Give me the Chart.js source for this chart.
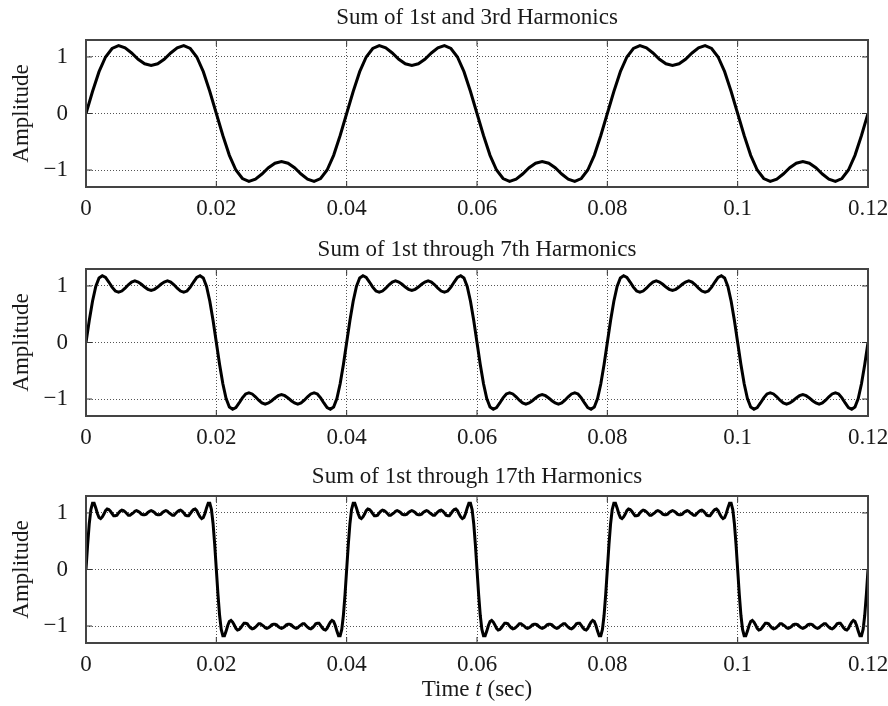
<!DOCTYPE html>
<html>
<head>
<meta charset="utf-8">
<script src="https://cdn.jsdelivr.net/npm/chart.js@4.4.1/dist/chart.umd.min.js"></script>
<style>
  body { margin: 0; background: #fff; }
  #wrap { position: relative; width: 888px; height: 706px; }
  #wrap canvas { position: absolute; left: 0; }
</style>
</head>
<body>
<div id="wrap">
  <canvas id="harm3" width="888" height="228" style="top:0"></canvas>
  <canvas id="harm7" width="888" height="228" style="top:229px"></canvas>
  <canvas id="harm17" width="888" height="250" style="top:456px"></canvas>
</div>
<script>
// tick values / labels shared by the three panels
const X_TICKS = [0, 0.02, 0.04, 0.06, 0.08, 0.1, 0.12];
const X_TICK_LABELS = ["0", "0.02", "0.04", "0.06", "0.08", "0.1", "0.12"];
const Y_TICKS = [-1, 0, 1];
const Y_TICK_LABELS = ["\u22121", "0", "1"];

const TITLES = [
  "Sum of 1st and 3rd Harmonics",
  "Sum of 1st through 7th Harmonics",
  "Sum of 1st through 17th Harmonics",
];

// sample spacing (sec) of each curve
const DT_3RD = 0.001;
const DT_7TH = 0.0005;
const DT_17TH = 0.00025;

// amplitude, t = 0 .. 0.12
const SUM_3RD = [
  0.00,
  0.39, 0.74, 1.00, 1.15, 1.20, 1.16, 1.07, 0.96, 0.88, 0.85, 0.88, 0.96, 1.07, 1.16, 1.20, 1.15, 1.00, 0.74, 0.39, 0.00,
  -0.39, -0.74, -1.00, -1.15, -1.20, -1.16, -1.07, -0.96, -0.88, -0.85, -0.88, -0.96, -1.07, -1.16, -1.20, -1.15, -1.00, -0.74, -0.39, 0.00,
  0.39, 0.74, 1.00, 1.15, 1.20, 1.16, 1.07, 0.96, 0.88, 0.85, 0.88, 0.96, 1.07, 1.16, 1.20, 1.15, 1.00, 0.74, 0.39, 0.00,
  -0.39, -0.74, -1.00, -1.15, -1.20, -1.16, -1.07, -0.96, -0.88, -0.85, -0.88, -0.96, -1.07, -1.16, -1.20, -1.15, -1.00, -0.74, -0.39, 0.00,
  0.39, 0.74, 1.00, 1.15, 1.20, 1.16, 1.07, 0.96, 0.88, 0.85, 0.88, 0.96, 1.07, 1.16, 1.20, 1.15, 1.00, 0.74, 0.39, 0.00,
  -0.39, -0.74, -1.00, -1.15, -1.20, -1.16, -1.07, -0.96, -0.88, -0.85, -0.88, -0.96, -1.07, -1.16, -1.20, -1.15, -1.00, -0.74, -0.39, 0.00,
];

const SUM_7TH = [
  0.00,
  0.39, 0.73, 0.99, 1.14, 1.18, 1.15, 1.07, 0.98, 0.91, 0.89, 0.91, 0.96, 1.02, 1.07, 1.09, 1.07, 1.03, 0.98, 0.94, 0.92,
  0.94, 0.98, 1.03, 1.07, 1.09, 1.07, 1.02, 0.96, 0.91, 0.89, 0.91, 0.98, 1.07, 1.15, 1.18, 1.14, 0.99, 0.73, 0.39, 0.00,
  -0.39, -0.73, -0.99, -1.14, -1.18, -1.15, -1.07, -0.98, -0.91, -0.89, -0.91, -0.96, -1.02, -1.07, -1.09, -1.07, -1.03, -0.98, -0.94, -0.92,
  -0.94, -0.98, -1.03, -1.07, -1.09, -1.07, -1.02, -0.96, -0.91, -0.89, -0.91, -0.98, -1.07, -1.15, -1.18, -1.14, -0.99, -0.73, -0.39, 0.00,
  0.39, 0.73, 0.99, 1.14, 1.18, 1.15, 1.07, 0.98, 0.91, 0.89, 0.91, 0.96, 1.02, 1.07, 1.09, 1.07, 1.03, 0.98, 0.94, 0.92,
  0.94, 0.98, 1.03, 1.07, 1.09, 1.07, 1.02, 0.96, 0.91, 0.89, 0.91, 0.98, 1.07, 1.15, 1.18, 1.14, 0.99, 0.73, 0.39, 0.00,
  -0.39, -0.73, -0.99, -1.14, -1.18, -1.15, -1.07, -0.98, -0.91, -0.89, -0.91, -0.96, -1.02, -1.07, -1.09, -1.07, -1.03, -0.98, -0.94, -0.92,
  -0.94, -0.98, -1.03, -1.07, -1.09, -1.07, -1.02, -0.96, -0.91, -0.89, -0.91, -0.98, -1.07, -1.15, -1.18, -1.14, -0.99, -0.73, -0.39, 0.00,
  0.39, 0.73, 0.99, 1.14, 1.18, 1.15, 1.07, 0.98, 0.91, 0.89, 0.91, 0.96, 1.02, 1.07, 1.09, 1.07, 1.03, 0.98, 0.94, 0.92,
  0.94, 0.98, 1.03, 1.07, 1.09, 1.07, 1.02, 0.96, 0.91, 0.89, 0.91, 0.98, 1.07, 1.15, 1.18, 1.14, 0.99, 0.73, 0.39, 0.00,
  -0.39, -0.73, -0.99, -1.14, -1.18, -1.15, -1.07, -0.98, -0.91, -0.89, -0.91, -0.96, -1.02, -1.07, -1.09, -1.07, -1.03, -0.98, -0.94, -0.92,
  -0.94, -0.98, -1.03, -1.07, -1.09, -1.07, -1.02, -0.96, -0.91, -0.89, -0.91, -0.98, -1.07, -1.15, -1.18, -1.14, -0.99, -0.73, -0.39, 0.00,
];

const SUM_17TH = [
  0.00,
  0.44, 0.81, 1.06, 1.17, 1.17, 1.09, 0.99, 0.92, 0.90, 0.93, 0.98, 1.04, 1.07, 1.06, 1.03, 0.99, 0.95, 0.95, 0.96, 1.00,
  1.03, 1.05, 1.04, 1.02, 0.99, 0.96, 0.96, 0.98, 1.00, 1.03, 1.04, 1.03, 1.01, 0.98, 0.97, 0.97, 0.98, 1.01, 1.03, 1.04,
  1.03, 1.01, 0.98, 0.97, 0.97, 0.98, 1.01, 1.03, 1.04, 1.03, 1.00, 0.98, 0.96, 0.96, 0.99, 1.02, 1.04, 1.05, 1.03, 1.00,
  0.96, 0.95, 0.95, 0.99, 1.03, 1.06, 1.07, 1.04, 0.98, 0.93, 0.90, 0.92, 0.99, 1.09, 1.17, 1.17, 1.06, 0.81, 0.44, 0.00,
  -0.44, -0.81, -1.06, -1.17, -1.17, -1.09, -0.99, -0.92, -0.90, -0.93, -0.98, -1.04, -1.07, -1.06, -1.03, -0.99, -0.95, -0.95, -0.96, -1.00,
  -1.03, -1.05, -1.04, -1.02, -0.99, -0.96, -0.96, -0.98, -1.00, -1.03, -1.04, -1.03, -1.01, -0.98, -0.97, -0.97, -0.98, -1.01, -1.03, -1.04,
  -1.03, -1.01, -0.98, -0.97, -0.97, -0.98, -1.01, -1.03, -1.04, -1.03, -1.00, -0.98, -0.96, -0.96, -0.99, -1.02, -1.04, -1.05, -1.03, -1.00,
  -0.96, -0.95, -0.95, -0.99, -1.03, -1.06, -1.07, -1.04, -0.98, -0.93, -0.90, -0.92, -0.99, -1.09, -1.17, -1.17, -1.06, -0.81, -0.44, 0.00,
  0.44, 0.81, 1.06, 1.17, 1.17, 1.09, 0.99, 0.92, 0.90, 0.93, 0.98, 1.04, 1.07, 1.06, 1.03, 0.99, 0.95, 0.95, 0.96, 1.00,
  1.03, 1.05, 1.04, 1.02, 0.99, 0.96, 0.96, 0.98, 1.00, 1.03, 1.04, 1.03, 1.01, 0.98, 0.97, 0.97, 0.98, 1.01, 1.03, 1.04,
  1.03, 1.01, 0.98, 0.97, 0.97, 0.98, 1.01, 1.03, 1.04, 1.03, 1.00, 0.98, 0.96, 0.96, 0.99, 1.02, 1.04, 1.05, 1.03, 1.00,
  0.96, 0.95, 0.95, 0.99, 1.03, 1.06, 1.07, 1.04, 0.98, 0.93, 0.90, 0.92, 0.99, 1.09, 1.17, 1.17, 1.06, 0.81, 0.44, 0.00,
  -0.44, -0.81, -1.06, -1.17, -1.17, -1.09, -0.99, -0.92, -0.90, -0.93, -0.98, -1.04, -1.07, -1.06, -1.03, -0.99, -0.95, -0.95, -0.96, -1.00,
  -1.03, -1.05, -1.04, -1.02, -0.99, -0.96, -0.96, -0.98, -1.00, -1.03, -1.04, -1.03, -1.01, -0.98, -0.97, -0.97, -0.98, -1.01, -1.03, -1.04,
  -1.03, -1.01, -0.98, -0.97, -0.97, -0.98, -1.01, -1.03, -1.04, -1.03, -1.00, -0.98, -0.96, -0.96, -0.99, -1.02, -1.04, -1.05, -1.03, -1.00,
  -0.96, -0.95, -0.95, -0.99, -1.03, -1.06, -1.07, -1.04, -0.98, -0.93, -0.90, -0.92, -0.99, -1.09, -1.17, -1.17, -1.06, -0.81, -0.44, 0.00,
  0.44, 0.81, 1.06, 1.17, 1.17, 1.09, 0.99, 0.92, 0.90, 0.93, 0.98, 1.04, 1.07, 1.06, 1.03, 0.99, 0.95, 0.95, 0.96, 1.00,
  1.03, 1.05, 1.04, 1.02, 0.99, 0.96, 0.96, 0.98, 1.00, 1.03, 1.04, 1.03, 1.01, 0.98, 0.97, 0.97, 0.98, 1.01, 1.03, 1.04,
  1.03, 1.01, 0.98, 0.97, 0.97, 0.98, 1.01, 1.03, 1.04, 1.03, 1.00, 0.98, 0.96, 0.96, 0.99, 1.02, 1.04, 1.05, 1.03, 1.00,
  0.96, 0.95, 0.95, 0.99, 1.03, 1.06, 1.07, 1.04, 0.98, 0.93, 0.90, 0.92, 0.99, 1.09, 1.17, 1.17, 1.06, 0.81, 0.44, 0.00,
  -0.44, -0.81, -1.06, -1.17, -1.17, -1.09, -0.99, -0.92, -0.90, -0.93, -0.98, -1.04, -1.07, -1.06, -1.03, -0.99, -0.95, -0.95, -0.96, -1.00,
  -1.03, -1.05, -1.04, -1.02, -0.99, -0.96, -0.96, -0.98, -1.00, -1.03, -1.04, -1.03, -1.01, -0.98, -0.97, -0.97, -0.98, -1.01, -1.03, -1.04,
  -1.03, -1.01, -0.98, -0.97, -0.97, -0.98, -1.01, -1.03, -1.04, -1.03, -1.00, -0.98, -0.96, -0.96, -0.99, -1.02, -1.04, -1.05, -1.03, -1.00,
  -0.96, -0.95, -0.95, -0.99, -1.03, -1.06, -1.07, -1.04, -0.98, -0.93, -0.90, -0.92, -0.99, -1.09, -1.17, -1.17, -1.06, -0.81, -0.44, 0.00,
];

const SERIF = "'Liberation Serif', 'Times New Roman', serif";
const TEXT = "#1a1a1a";
const GRID = "#555";
const FONT_SIZE = 23;
const LINE_H = FONT_SIZE * 1.2;

// box round the plot area plus small inward tick marks on all four sides
const frameAndTicks = {
  id: "frameAndTicks",
  afterDatasetsDraw(chart) {
    const { ctx, chartArea: a, scales } = chart;
    ctx.save();
    ctx.strokeStyle = "#333";
    ctx.lineWidth = 1;
    ctx.beginPath();
    X_TICKS.forEach((v) => {
      const px = scales.x.getPixelForValue(v);
      ctx.moveTo(px, a.bottom);
      ctx.lineTo(px, a.bottom - 6);
      ctx.moveTo(px, a.top);
      ctx.lineTo(px, a.top + 6);
    });
    Y_TICKS.forEach((v) => {
      const py = scales.y.getPixelForValue(v);
      ctx.moveTo(a.left, py);
      ctx.lineTo(a.left + 6, py);
      ctx.moveTo(a.right, py);
      ctx.lineTo(a.right - 6, py);
    });
    ctx.stroke();
    ctx.strokeStyle = "#444";
    ctx.lineWidth = 2;
    ctx.strokeRect(a.left, a.top, a.right - a.left, a.bottom - a.top);
    ctx.restore();
  },
};

// "Time t (sec)" with an italic t
const timeAxisTitle = {
  id: "timeAxisTitle",
  afterDraw(chart) {
    const { ctx, chartArea: a } = chart;
    const parts = [["Time ", "normal"], ["t", "italic"], [" (sec)", "normal"]];
    ctx.save();
    ctx.fillStyle = TEXT;
    ctx.textBaseline = "middle";
    const widths = parts.map(([s, st]) => {
      ctx.font = st + " " + FONT_SIZE + "px " + SERIF;
      return ctx.measureText(s).width;
    });
    let x = (a.left + a.right) / 2 - widths.reduce((p, c) => p + c, 0) / 2;
    parts.forEach(([s, st], i) => {
      ctx.font = st + " " + FONT_SIZE + "px " + SERIF;
      ctx.fillText(s, x, chart.height - 16);
      x += widths[i];
    });
    ctx.restore();
  },
};

function makeChart(id, title, values, dt, titleCenter, xAxisHeight, extra) {
  const points = values.map((v, i) => ({ x: i * dt, y: v }));
  const font = { family: SERIF, size: FONT_SIZE, weight: "normal" };
  const padTop = titleCenter - LINE_H / 2;
  return new Chart(document.getElementById(id), {
    type: "line",
    data: {
      datasets: [
        {
          data: points,
          borderColor: "#000",
          borderWidth: 3,
          pointRadius: 0,
          tension: 0,
          fill: false,
        },
      ],
    },
    options: {
      responsive: false,
      animation: false,
      events: [],
      layout: { padding: { left: 0, right: 20, top: 0, bottom: 0 } },
      plugins: {
        legend: { display: false },
        tooltip: { enabled: false },
        title: {
          display: true,
          fullSize: false,
          text: title,
          color: TEXT,
          font: font,
          padding: { top: padTop, bottom: 40 - padTop - LINE_H },
        },
      },
      scales: {
        x: {
          type: "linear",
          min: 0,
          max: 0.12,
          afterBuildTicks: (s) => {
            s.ticks = X_TICKS.map((v) => ({ value: v }));
          },
          afterFit: (s) => {
            s.height = xAxisHeight;
            s.paddingLeft = 0;
            s.paddingRight = 0;
          },
          ticks: {
            padding: 8,
            color: TEXT,
            font: font,
            maxRotation: 0,
            autoSkip: false,
            callback: (v, i) => X_TICK_LABELS[i],
          },
          grid: { color: GRID, lineWidth: 1, drawTicks: false },
          border: { display: false, dash: [1, 2] },
        },
        y: {
          min: -1.3,
          max: 1.3,
          afterBuildTicks: (s) => {
            s.ticks = Y_TICKS.map((v) => ({ value: v }));
          },
          afterFit: (s) => {
            s.width = 86;
            s.paddingTop = 0;
            s.paddingBottom = 0;
          },
          ticks: {
            padding: 18,
            color: TEXT,
            font: font,
            callback: (v, i) => Y_TICK_LABELS[i],
          },
          title: {
            display: true,
            text: "Amplitude",
            color: TEXT,
            font: font,
            padding: { top: 8, bottom: 0 },
          },
          grid: { color: GRID, lineWidth: 1, drawTicks: false },
          border: { display: false, dash: [1, 2] },
        },
      },
    },
    plugins: [frameAndTicks].concat(extra || []),
  });
}

makeChart("harm3", TITLES[0], SUM_3RD, DT_3RD, 18, 41);
makeChart("harm7", TITLES[1], SUM_7TH, DT_7TH, 21, 41);
makeChart("harm17", TITLES[2], SUM_17TH, DT_17TH, 21, 63, [timeAxisTitle]);
</script>
</body>
</html>
